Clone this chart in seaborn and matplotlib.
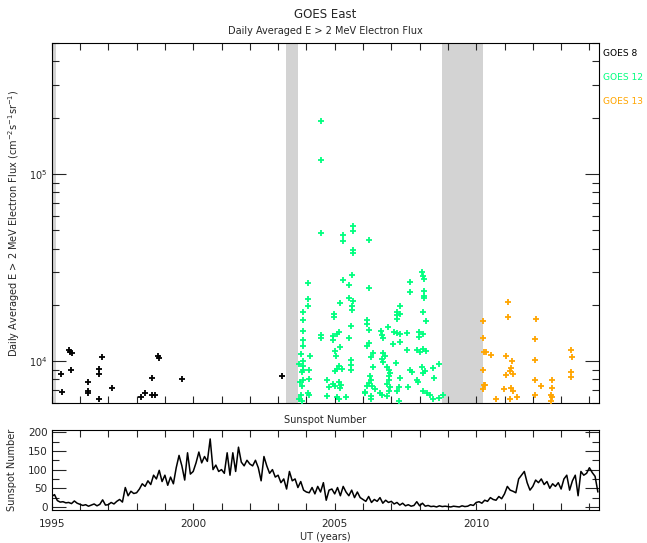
#!/usr/bin/env python
# -*- coding: utf-8 -*-

import numpy as np
import matplotlib
matplotlib.use("Agg")
import matplotlib.pyplot as plt
from matplotlib.ticker import MultipleLocator, LogLocator, NullFormatter
import seaborn as sns

# GOES 8 daily averaged flux (decimal year, flux)
goes8_year = [1995.33, 1995.35, 1995.62, 1995.65, 1995.73, 1995.68, 1996.28, 1996.28,
              1996.29, 1996.66, 1996.68, 1996.66, 1996.78, 1997.14, 1998.17, 1998.31,
              1998.54, 1998.54, 1998.64, 1998.77, 1998.79, 1999.59, 2003.15]
goes8_flux = [8530, 6840, 11440, 11250, 11070, 8960, 7730, 6950,
              6760, 9130, 8530, 6250, 10500, 7150, 6460, 6760,
              8180, 6560, 6560, 10710, 10450, 8050, 8380]

# GOES 12
goes12_year = [2004.51, 2004.51, 2004.51, 2005.64, 2005.64, 2005.30, 2005.30, 2006.20,
               2005.64, 2005.64, 2004.06, 2005.60, 2005.28, 2005.52, 2006.20, 2007.65,
               2007.65, 2008.07, 2008.11, 2008.15, 2008.15, 2008.15, 2008.16, 2004.06,
               2005.19, 2005.52, 2005.64,
               2004.06, 2005.61, 2005.61, 2003.89, 2003.89, 2004.98, 2004.98, 2007.31,
               2007.19, 2007.19, 2007.31, 2007.19, 2008.13, 2008.23, 2006.13, 2006.13,
               2006.20, 2005.57, 2006.87, 2003.89, 2006.63, 2006.66, 2006.70, 2005.16,
               2005.07, 2004.95, 2004.95, 2007.10, 2007.21, 2007.31, 2007.57, 2007.99,
               2007.99, 2008.13, 2004.51, 2004.51, 2005.52, 2003.89, 2003.89, 2006.20,
               2006.15, 2007.07, 2007.31, 2005.19, 2005.00, 2005.05, 2007.57, 2007.90,
               2008.01, 2008.13, 2008.23, 2003.80, 2004.13, 2006.34, 2006.29, 2006.72,
               2006.79, 2006.67, 2006.72, 2005.57, 2005.57, 2005.59, 2003.89, 2003.89,
               2003.89, 2003.73, 2007.17, 2005.14, 2005.09, 2005.02, 2005.26, 2006.36,
               2006.84, 2006.91, 2006.95, 2006.91, 2006.93, 2007.66, 2007.73, 2008.09,
               2008.20, 2008.13, 2008.68, 2008.46, 2004.08, 2003.84, 2007.31, 2008.51,
               2007.90, 2007.94, 2003.89, 2003.77, 2003.84, 2004.08, 2004.72, 2004.79,
               2004.72, 2004.93, 2005.02, 2005.14, 2005.21, 2005.19, 2006.25, 2006.29,
               2006.20, 2006.32, 2006.13, 2006.08, 2006.43, 2006.60, 2006.67, 2006.86,
               2006.95, 2006.91, 2006.86, 2007.26, 2007.21, 2007.59, 2008.11, 2008.25,
               2008.37, 2008.46, 2008.70, 2008.82, 2003.80, 2003.73, 2004.10, 2005.07,
               2005.16, 2005.40, 2006.27, 2006.27, 2006.06, 2007.26, 2003.84, 2004.06]
goes12_flux = [193000, 118700, 48560, 52770, 49330, 47150, 43630, 44560,
               39090, 38010, 26150, 28950, 27230, 25670, 24630, 26570,
               23310, 29780, 28600, 27400, 23740, 22250, 21720, 21370,
               20340, 21640, 20850,
               19610, 19750, 18810, 18360, 16520, 17850, 17200, 19610,
               18360, 17630, 17850, 16790, 18220, 16380, 16520, 15730,
               14670, 15350, 15220, 14440, 14550, 13800, 13300, 14270,
               14020, 13690, 12930, 14370, 14090, 13920, 14140, 14370,
               13470, 14020, 13250, 13720, 13250, 12930, 12100, 12510,
               12100, 12360, 12620, 11960, 11390, 10710, 11530, 11530,
               11170, 11620, 11350, 10900, 10630, 11070, 10540, 11030,
               10630, 10250, 9880, 10120, 9560, 9020, 10070, 9475,
               8960, 9640, 9760, 9475, 9100, 8910, 9100, 9360,
               9325, 9020, 8660, 8320, 7980, 9020, 8740, 9290,
               8910, 8660, 9710, 9250, 9020, 8740, 8120, 8180,
               7980, 7730, 7920, 7730, 7360, 8050, 7920, 7300,
               6510, 7510, 7360, 7730, 7480, 7190, 8320, 7920,
               7670, 7360, 7360, 6840, 7120, 6720, 6620, 7570,
               7300, 6950, 6510, 7270, 6950, 7240, 6950, 6780,
               6560, 6300, 6360, 6620, 6560, 6300, 6560, 6460,
               6300, 6460, 6510, 6300, 6780, 6150, 6150, 6780]

# GOES 13
goes13_year = [2011.13, 2011.13, 2010.23, 2012.10, 2010.23, 2012.09, 2010.29, 2010.34,
               2010.53, 2011.05, 2011.28, 2012.09, 2013.35, 2013.39, 2010.23, 2011.22,
               2011.19, 2011.05, 2011.29, 2013.35, 2013.34, 2012.08, 2012.67, 2010.27,
               2010.31, 2010.23, 2012.30, 2010.97, 2011.22, 2011.30, 2012.67, 2011.43,
               2012.08, 2010.70, 2011.19, 2012.63, 2012.67, 2012.63]
goes13_flux = [20600, 17270, 16320, 16720, 13250, 13190, 11160, 11160,
               10840, 10670, 10070, 10160, 11530, 10540, 8960, 9210,
               8910, 8450, 8530, 8740, 8250, 7960, 7930, 7450,
               7450, 7120, 7360, 7060, 7210, 6950, 7180, 6440,
               6560, 6250, 6300, 6620, 6440, 6100]

# data gaps (shaded)
gap_start = [1995.00, 2003.28, 2008.80]
gap_end = [1995.15, 2003.69, 2010.24]

# sunspot number, every 0.1 yr starting 1995.0
ssn_start = 1995.0
ssn_step = 0.1
ssn = [28, 33, 17, 13, 14, 11, 12, 9, 16, 10,
       7, 4, 6, 2, 5, 8, 3, 7, 19, 5,
       6, 12, 8, 15, 20, 13, 52, 30, 42, 36,
       38, 48, 62, 55, 70, 60, 85, 75, 98, 68,
       85, 58, 80, 62, 105, 138, 110, 72, 145, 88,
       95, 118, 147, 118, 135, 122, 182, 100, 112, 95,
       100, 90, 145, 85, 145, 95, 160, 120, 110, 125,
       115, 110, 125, 105, 70, 135, 110, 90, 100, 80,
       85, 65, 75, 48, 95, 70, 75, 52, 68, 45,
       40, 38, 52, 35, 55, 40, 65, 18, 45, 48,
       35, 52, 30, 55, 40, 30, 45, 25, 40, 25,
       20, 15, 28, 12, 20, 15, 25, 10, 18, 12,
       15, 8, 12, 5, 10, 3, 6, 2, 4, 14,
       3, 10, 2, 4, 1, 2, 0, 3, 1, 2,
       1, 0, 2, 1, 0, 3, 1, 2, 6, 4,
       12, 14, 10, 18, 15, 25, 20, 18, 28, 22,
       35, 55, 45, 42, 38, 75, 85, 95, 65, 45,
       55, 72, 65, 75, 60, 68, 50, 62, 55, 65,
       48, 75, 85, 45, 70, 85, 30, 95, 85, 90,
       105, 92, 82, 40]

sat_labels = ['GOES 8', 'GOES 12', 'GOES 13']
sat_colors = ['black', '#00ff7f', '#ffa500']


def main():
    sns.set_style("ticks")
    plt.rcParams['font.family'] = ['DejaVu Sans']
    plt.rcParams['axes.linewidth'] = 0.8

    fig = plt.figure(figsize=(6.47, 5.43), dpi=100)
    ax1 = fig.add_axes([0.0799, 0.2584, 0.8464, 0.6619])
    ax2 = fig.add_axes([0.0799, 0.0602, 0.8464, 0.1479])

    # top panel: electron flux
    for s, e in zip(gap_start, gap_end):
        ax1.axvspan(s, e, color='#d3d3d3', lw=0, zorder=0)

    series = [(goes8_year, goes8_flux), (goes12_year, goes12_flux), (goes13_year, goes13_flux)]
    for (yr, fl), col in zip(series, sat_colors):
        sns.scatterplot(x=np.array(yr), y=np.array(fl), marker='+', color=col,
                        s=24, linewidth=1.3, legend=False, ax=ax1, zorder=3)

    ax1.set_yscale('log')
    ax1.set_xlim(1995.0, 2014.35)
    ax1.set_ylim(6e3, 5e5)
    ax1.xaxis.set_major_locator(MultipleLocator(5))
    ax1.xaxis.set_minor_locator(MultipleLocator(1))
    ax1.yaxis.set_major_locator(LogLocator(base=10))
    ax1.yaxis.set_minor_locator(LogLocator(base=10, subs=np.arange(2, 10)))
    ax1.yaxis.set_minor_formatter(NullFormatter())
    ax1.set_xticklabels([])
    ax1.tick_params(axis='x', which='both', direction='in', top=True, bottom=True,
                    length=5, width=0.8)
    ax1.tick_params(axis='y', which='major', direction='in', left=True, right=True,
                    length=10, width=0.8, labelsize=7, pad=3)
    ax1.tick_params(axis='y', which='minor', direction='in', left=True, right=True,
                    length=5, width=0.8)
    ax1.set_ylabel('Daily Averaged E > 2 MeV Electron Flux (cm$^{-2}$s$^{-1}$sr$^{-1}$)',
                   fontsize=7)
    ax1.yaxis.set_label_coords(-0.054, 0.5)

    # bottom panel: sunspot number
    ssn_year = ssn_start + ssn_step * np.arange(len(ssn))
    sns.lineplot(x=ssn_year, y=np.array(ssn), color='black', lw=1.1, ax=ax2)
    ax2.set_xlim(1995.0, 2014.35)
    ax2.set_ylim(-9, 206)
    ax2.xaxis.set_major_locator(MultipleLocator(5))
    ax2.xaxis.set_minor_locator(MultipleLocator(1))
    ax2.yaxis.set_major_locator(MultipleLocator(50))
    ax2.yaxis.set_minor_locator(MultipleLocator(25))
    ax2.tick_params(axis='x', which='major', direction='in', top=True, bottom=True,
                    length=5, width=0.8, labelsize=7.5, pad=6)
    ax2.tick_params(axis='x', which='minor', direction='in', top=True, bottom=True,
                    length=5, width=0.8)
    ax2.tick_params(axis='y', which='major', direction='in', left=True, right=True,
                    length=10, width=0.8, labelsize=7.5, pad=3)
    ax2.tick_params(axis='y', which='minor', direction='in', left=True, right=True,
                    length=5, width=0.8)
    ax2.set_ylabel('Sunspot Number', fontsize=7)
    ax2.yaxis.set_label_coords(-0.063, 0.5)
    ax2.set_xlabel('')

    for sp in list(ax1.spines.values()) + list(ax2.spines.values()):
        sp.set_color('black')

    # titles and labels
    fig.text(0.503, 1 - 15 / 543, 'GOES East', ha='center', va='center', fontsize=8.5)
    fig.text(0.503, 1 - 31 / 543, 'Daily Averaged E > 2 MeV Electron Flux',
             ha='center', va='center', fontsize=7)
    fig.text(0.503, 1 - 420 / 543, 'Sunspot Number', ha='center', va='center', fontsize=7)
    fig.text(0.503, 1 - 537 / 543, 'UT (years)', ha='center', va='center', fontsize=7)

    for i, (lab, col) in enumerate(zip(sat_labels, sat_colors)):
        fig.text(603 / 647, 1 - (53 + 24.5 * i) / 543, lab, color=col,
                 ha='left', va='center', fontsize=6.6)

    fig.savefig("out.png", dpi=100)


if __name__ == '__main__':
    main()
